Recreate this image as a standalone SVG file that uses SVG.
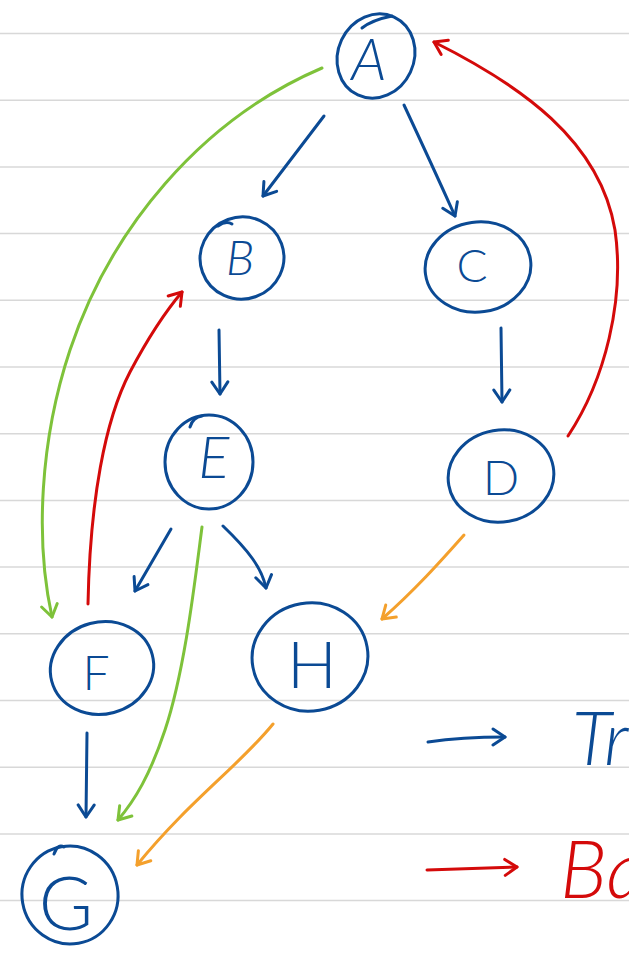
<svg xmlns="http://www.w3.org/2000/svg" width="629" height="954" viewBox="0 0 629 954">
<style>
.rule{stroke:#d8d8d8;stroke-width:1.5}
.node{fill:none;stroke:#0b4a94;stroke-width:3;stroke-linecap:round}
.lbl{fill:#0b4a94;font-family:Lato,"Liberation Sans",Arial,sans-serif;font-weight:300;text-anchor:middle}
.leg{font-family:Lato,"Liberation Sans",Arial,sans-serif;font-weight:300;font-style:italic}
.e{fill:none;stroke-width:3;stroke-linecap:round;stroke-linejoin:round}
.tree{stroke:#0b4a94;marker-end:url(#hb)}
.fwd{stroke:#7ec23a;marker-end:url(#hg)}
.back{stroke:#d40a0a;marker-end:url(#hr)}
.cross{stroke:#f4a02c;marker-end:url(#ho)}
</style>
<defs>
<marker id="hb" viewBox="0 0 20 20" refX="16" refY="10" markerWidth="20" markerHeight="20" markerUnits="userSpaceOnUse" orient="auto"><path d="M4,2 L16,10 L4,18" fill="none" stroke="#0b4a94" stroke-width="3" stroke-linecap="round" stroke-linejoin="round"/></marker>
<marker id="hg" viewBox="0 0 20 20" refX="16" refY="10" markerWidth="20" markerHeight="20" markerUnits="userSpaceOnUse" orient="auto"><path d="M4,2 L16,10 L4,18" fill="none" stroke="#7ec23a" stroke-width="3" stroke-linecap="round" stroke-linejoin="round"/></marker>
<marker id="hr" viewBox="0 0 20 20" refX="16" refY="10" markerWidth="20" markerHeight="20" markerUnits="userSpaceOnUse" orient="auto"><path d="M4,2 L16,10 L4,18" fill="none" stroke="#d40a0a" stroke-width="3" stroke-linecap="round" stroke-linejoin="round"/></marker>
<marker id="ho" viewBox="0 0 20 20" refX="16" refY="10" markerWidth="20" markerHeight="20" markerUnits="userSpaceOnUse" orient="auto"><path d="M4,2 L16,10 L4,18" fill="none" stroke="#f4a02c" stroke-width="3" stroke-linecap="round" stroke-linejoin="round"/></marker>
</defs>
<rect width="629" height="954" fill="#ffffff"/>
<g id="rules">
<line class="rule" x1="0" y1="33.5" x2="629" y2="33.5"/>
<line class="rule" x1="0" y1="100.2" x2="629" y2="100.2"/>
<line class="rule" x1="0" y1="166.9" x2="629" y2="166.9"/>
<line class="rule" x1="0" y1="233.6" x2="629" y2="233.6"/>
<line class="rule" x1="0" y1="300.3" x2="629" y2="300.3"/>
<line class="rule" x1="0" y1="367" x2="629" y2="367"/>
<line class="rule" x1="0" y1="433.7" x2="629" y2="433.7"/>
<line class="rule" x1="0" y1="500.4" x2="629" y2="500.4"/>
<line class="rule" x1="0" y1="567.1" x2="629" y2="567.1"/>
<line class="rule" x1="0" y1="633.8" x2="629" y2="633.8"/>
<line class="rule" x1="0" y1="700.5" x2="629" y2="700.5"/>
<line class="rule" x1="0" y1="767.2" x2="629" y2="767.2"/>
<line class="rule" x1="0" y1="833.9" x2="629" y2="833.9"/>
<line class="rule" x1="0" y1="900.6" x2="629" y2="900.6"/>
</g>
<g id="connectors">
<path class="e tree" d="M324,116 L263,196"/>
<path class="e tree" d="M404,105 Q432,165 455,216"/>
<path class="e tree" d="M219,330 L220,394"/>
<path class="e tree" d="M501,328 L502,402"/>
<path class="e tree" d="M171,529 L135,591"/>
<path class="e tree" d="M223,526 C248,550 262,568 266,588"/>
<path class="e tree" d="M87,733 L86,817"/>
<path class="e fwd" d="M322,68 C200,120 110,230 70,350 C40,440 35,540 52,617"/>
<path class="e fwd" d="M202,527 C195,580 185,670 165,730 C150,775 135,800 118,820"/>
<path class="e back" d="M88,604 C90,500 105,420 130,372 C148,338 165,312 182,292"/>
<path class="e back" d="M568,436 C605,380 625,300 615,230 C600,140 520,85 434,42"/>
<path class="e cross" d="M464,535 C440,562 415,590 382,619"/>
<path class="e cross" d="M273,724 C240,765 190,800 137,865"/>
</g>
<g id="node-A">
<ellipse class="node" cx="376" cy="56" rx="38" ry="43" transform="rotate(25 376 56)"/>
<path class="node" d="M362,28 Q372,20 392,16"/>
<text class="lbl" x="369" y="80" font-size="58" font-style="italic">A</text>
</g>
<g id="node-B">
<ellipse class="node" cx="242" cy="258" rx="42" ry="41" transform="rotate(-20 242 258)"/>
<path class="node" d="M218,226 Q226,220 232,224"/>
<text class="lbl" x="240" y="275" font-size="48" font-style="italic">B</text>
</g>
<g id="node-C">
<ellipse class="node" cx="478" cy="267" rx="53" ry="45" transform="rotate(-8 478 267)"/>
<text class="lbl" x="472" y="282" font-size="46">C</text>
</g>
<g id="node-E">
<ellipse class="node" cx="209" cy="462" rx="44" ry="47"/>
<path class="node" d="M190,427 Q193,417 202,416"/>
<text class="lbl" x="214" y="478" font-size="58" font-style="italic">E</text>
</g>
<g id="node-D">
<ellipse class="node" cx="501" cy="476" rx="53" ry="46" transform="rotate(-10 501 476)"/>
<text class="lbl" x="501" y="495" font-size="48">D</text>
</g>
<g id="node-F">
<ellipse class="node" cx="102" cy="668" rx="52" ry="46" transform="rotate(-15 102 668)"/>
<text class="lbl" x="96" y="690" font-size="48">F</text>
</g>
<g id="node-H">
<ellipse class="node" cx="310" cy="657" rx="58" ry="54" transform="rotate(-10 310 657)"/>
<text class="lbl" x="312" y="688" font-size="66">H</text>
</g>
<g id="node-G">
<ellipse class="node" cx="70" cy="895" rx="48" ry="49" transform="rotate(-10 70 895)"/>
<path class="node" d="M54,854 Q58,843 64,847"/>
<text class="lbl" x="66" y="930" font-size="74">G</text>
</g>
<g id="legend">
<path class="e tree" d="M428,742 C455,738 480,737 505,737"/>
<text class="leg" x="572" y="765" font-size="74" fill="#0b4a94">Tre</text>
<path class="e back" d="M427,870 L517,867"/>
<text class="leg" x="560" y="898" font-size="80" fill="#d40a0a">Ba</text>
</g>
</svg>
